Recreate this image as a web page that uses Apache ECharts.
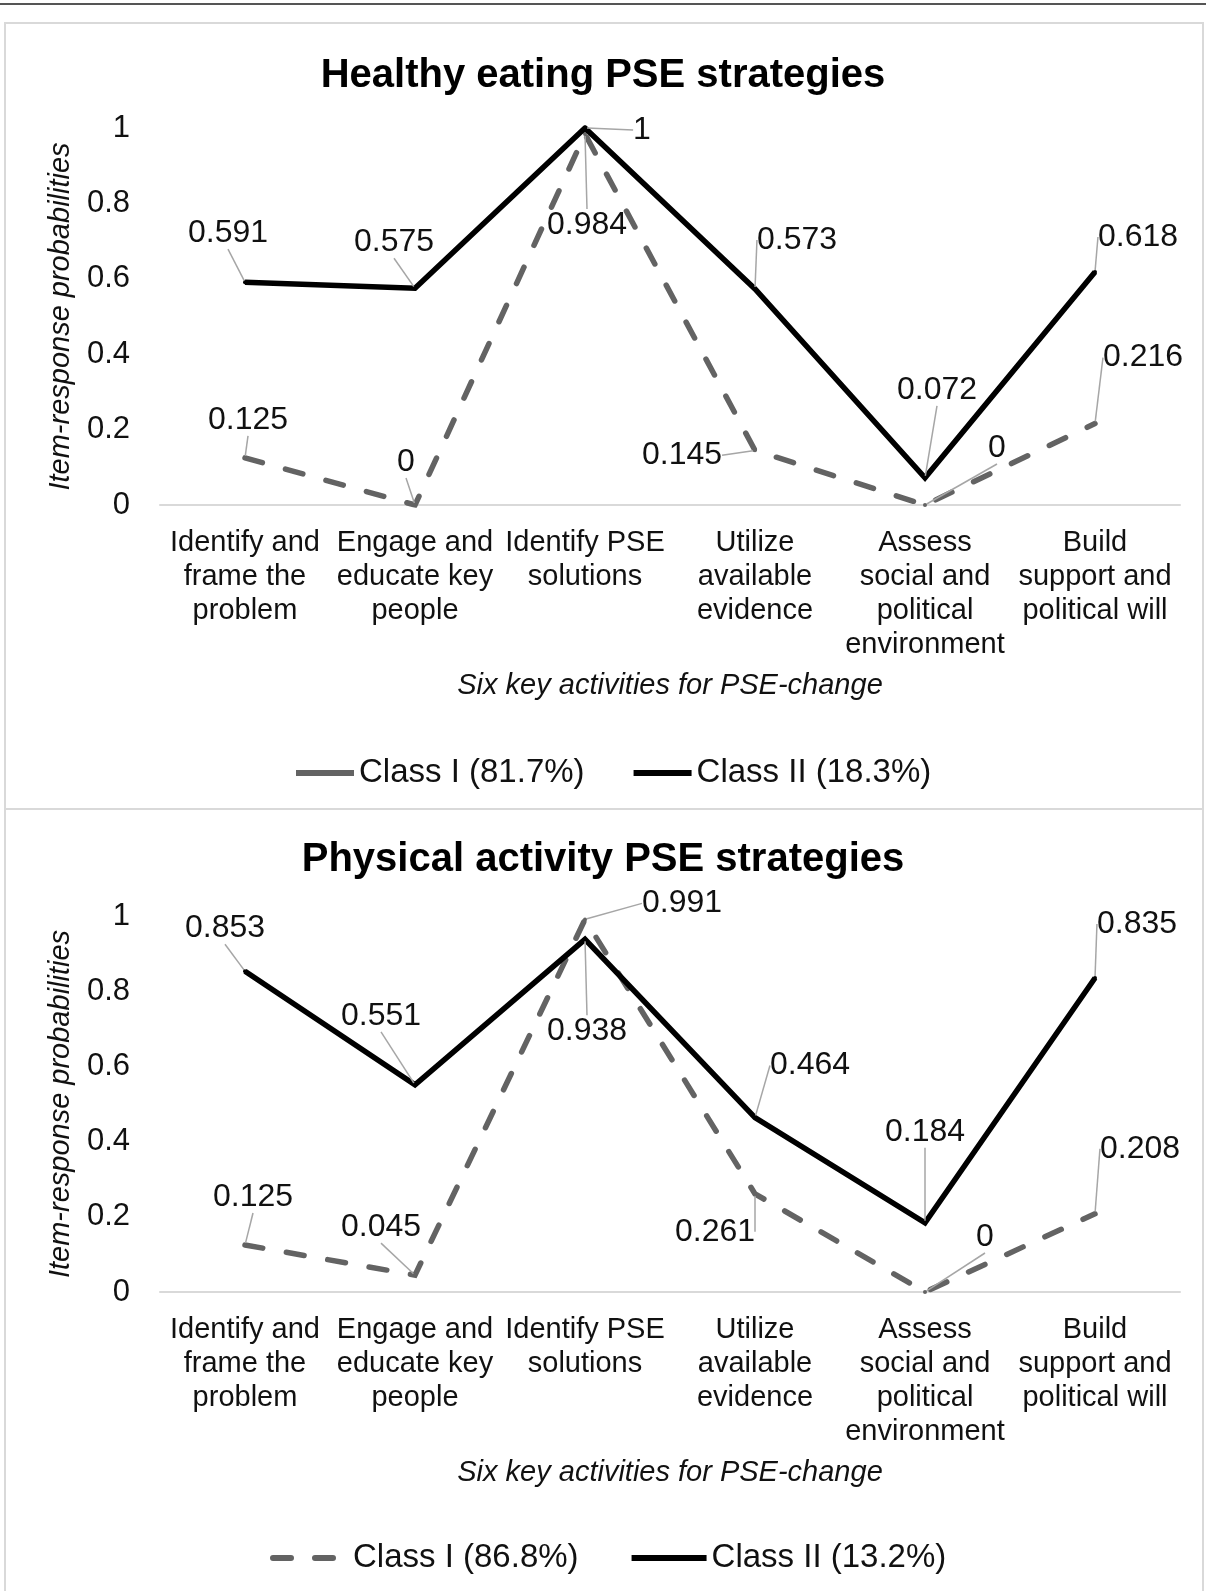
<!DOCTYPE html>
<html><head><meta charset="utf-8">
<script src="https://cdn.jsdelivr.net/npm/echarts@6/dist/echarts.min.js"></script>
<style>
html,body{margin:0;padding:0;background:#fff;width:1206px;height:1591px;overflow:hidden;position:relative;}
.chart{position:absolute;left:0;width:1206px;}
.box{position:absolute;border:2px solid #d9d9d9;box-sizing:border-box;pointer-events:none;}
</style></head><body>
<div style="position:absolute;left:0;top:3px;width:1206px;height:2px;background:#555"></div>
<div id="c1" class="chart" style="top:23px;height:785px"></div>
<div id="c2" class="chart" style="top:808px;height:783px"></div>
<div class="box" style="left:4px;top:22px;width:1200px;height:788px"></div>
<div class="box" style="left:4px;top:808px;width:1200px;height:800px"></div>
<script>
// ---- data ----
var categories = ['Identify and\nframe the\nproblem', 'Engage and\neducate key\npeople', 'Identify PSE\nsolutions', 'Utilize\navailable\nevidence', 'Assess\nsocial and\npolitical\nenvironment', 'Build\nsupport and\npolitical will'];
var yTicks = [0, 0.2, 0.4, 0.6, 0.8, 1];

var heTitle = 'Healthy eating PSE strategies';
var heClass1Name = 'Class I (81.7%)';
var heClass2Name = 'Class II (18.3%)';
var heClass1 = [0.125, 0, 0.984, 0.145, 0, 0.216];
var heClass2 = [0.591, 0.575, 1, 0.573, 0.072, 0.618];

var paTitle = 'Physical activity PSE strategies';
var paClass1Name = 'Class I (86.8%)';
var paClass2Name = 'Class II (13.2%)';
var paClass1 = [0.125, 0.045, 0.991, 0.261, 0, 0.208];
var paClass2 = [0.853, 0.551, 0.938, 0.464, 0.184, 0.835];

var yAxisTitle = 'Item-response probabilities';
var xAxisTitle = 'Six key activities for PSE-change';

// ---- label offsets (style only) ----
var he1Off = [[3,-38],[-9,-43],[2,91],[-73,5],[72,-57],[48,-66]];
var he2Off = [[-17,-49],[-21,-46],[57,2],[42,-49],[12,-88],[43,-35]];
var pa1Off = [[8,-48],[-34,-48],[97,-16],[-40,38],[60,-55],[45,-65]];
var pa2Off = [[-20,-43],[-34,-69],[2,92],[55,-52],[0,-91],[42,-54]];

var FONT = '"Liberation Sans", Arial, sans-serif';
var DASH = '#636363';

function lineSeries(name, data, color, dashed, offs) {
  return {
    name: name, type: 'line', data: data,
    symbol: 'circle', symbolSize: 4,
    itemStyle: {color: color},
    lineStyle: {color: color, width: 5.5, type: dashed ? [18, 24] : 'solid', cap: dashed ? 'round' : 'butt', join: 'miter'},
    label: {show: true, position: 'inside', fontFamily: FONT, fontSize: 32, color: '#111',
      formatter: function (p) { return String(p.value); }},
    labelLine: {show: true, lineStyle: {color: '#a6a6a6', width: 1.5}},
    labelLayout: function (p) { var o = offs[p.dataIndex]; return {dx: o[0], dy: o[1]}; },
    emphasis: {disabled: true}, silent: true, z: dashed ? 2 : 3
  };
}

function makeOption(cfg) {
  return {
    animation: false,
    backgroundColor: '#fff',
    title: {text: cfg.title, left: 'center', top: cfg.titleTop,
      textStyle: {fontFamily: FONT, fontSize: 40, fontWeight: 'bold', color: '#000', lineHeight: 46}},
    legend: {
      left: cfg.legendLeft, top: 725, itemWidth: cfg.iconW, itemHeight: 14, itemGap: cfg.legendGap,
      textStyle: {fontFamily: FONT, fontSize: 33, color: '#111', lineHeight: 40},
      data: [
        {name: cfg.n1, lineStyle: {type: cfg.legendDash ? [18, 24] : 'solid', width: 6, cap: cfg.legendDash ? 'round' : 'butt'},
          itemStyle: {opacity: 0, color: 'rgba(0,0,0,0)', borderWidth: 0}},
        {name: cfg.n2, lineStyle: {width: 6}, itemStyle: {opacity: 0, color: 'rgba(0,0,0,0)', borderWidth: 0}}
      ]
    },
    grid: {left: 160, width: 1020, top: cfg.gridTop, height: cfg.gridH},
    xAxis: {
      type: 'category', data: categories, boundaryGap: true,
      axisLine: {lineStyle: {color: '#d9d9d9', width: 2}},
      axisTick: {show: false},
      axisLabel: {interval: 0, margin: 21, fontFamily: FONT, fontSize: 29, lineHeight: 34, color: '#111', align: 'center'},
      name: xAxisTitle, nameLocation: 'middle', nameGap: 166,
      nameTextStyle: {fontFamily: FONT, fontSize: 29, fontStyle: 'italic', color: '#111'}
    },
    yAxis: {
      type: 'value', min: yTicks[0], max: yTicks[yTicks.length - 1], interval: yTicks[1] - yTicks[0],
      axisLine: {show: false}, axisTick: {show: false}, splitLine: {show: false},
      axisLabel: {margin: 30, fontFamily: FONT, fontSize: 31, color: '#111'},
      name: yAxisTitle, nameLocation: 'middle', nameGap: 85,
      nameTextStyle: {fontFamily: FONT, fontSize: 29, fontStyle: 'italic', color: '#111'}
    },
    series: [
      lineSeries(cfg.n1, cfg.d1, DASH, true, cfg.o1),
      lineSeries(cfg.n2, cfg.d2, '#000', false, cfg.o2)
    ]
  };
}

var c1 = echarts.init(document.getElementById('c1'), null, {renderer: 'canvas'});
c1.setOption(makeOption({title: heTitle, titleTop: 25, gridTop: 105, gridH: 377,
  n1: heClass1Name, n2: heClass2Name, d1: heClass1, d2: heClass2, o1: he1Off, o2: he2Off,
  legendDash: false, iconW: 58, legendGap: 46, legendLeft: 288}));

var c2 = echarts.init(document.getElementById('c2'), null, {renderer: 'canvas'});
c2.setOption(makeOption({title: paTitle, titleTop: 24, gridTop: 108, gridH: 376,
  n1: paClass1Name, n2: paClass2Name, d1: paClass1, d2: paClass2, o1: pa1Off, o2: pa2Off,
  legendDash: true, iconW: 75, legendGap: 50, legendLeft: 265}));
</script>
</body></html>
